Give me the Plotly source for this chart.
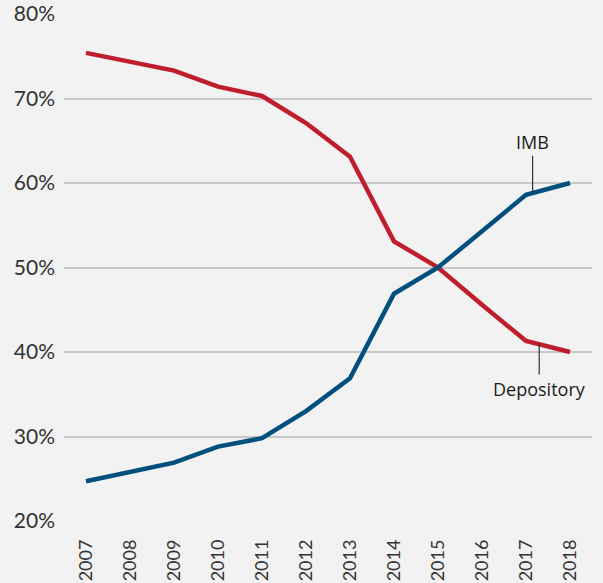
import plotly.graph_objects as go

years = list(range(2007, 2019))
depository = [75.4, 74.4, 73.3, 71.4, 70.3, 67.1, 63.1, 53.1, 50.0, 45.6, 41.3, 40.0]
imb = [24.7, 25.8, 26.9, 28.8, 29.8, 33.0, 36.9, 46.9, 50.0, 54.3, 58.6, 60.0]
y_ticks = [20, 30, 40, 50, 60, 70, 80]

RED = "#be1e2d"
BLUE = "#004f7c"
FONT = "Lato, Roboto, sans-serif"
LBL_FONT = "Open Sans, sans-serif"

fig = go.Figure()
fig.add_trace(go.Scatter(x=years, y=depository, mode="lines", name="Depository",
                         line=dict(color=RED, width=4.5)))
fig.add_trace(go.Scatter(x=years, y=imb, mode="lines", name="IMB",
                         line=dict(color=BLUE, width=4.5)))

# leader-line labels
fig.add_annotation(x=2017.15, y=58.85, text="IMB", showarrow=True, arrowhead=0,
                   arrowwidth=1.2, arrowcolor="#333", ax=0, ay=-37,
                   font=dict(family=LBL_FONT, size=18, color="#1a1a1a"), yanchor="bottom")
fig.add_annotation(x=2017.3, y=41.0, text="Depository", showarrow=True, arrowhead=0,
                   arrowwidth=1.2, arrowcolor="#333", ax=0, ay=31,
                   font=dict(family=LBL_FONT, size=18, color="#1a1a1a"), yanchor="top")

fig.update_layout(
    width=603, height=583,
    paper_bgcolor="#f2f2f2", plot_bgcolor="#f2f2f2",
    margin=dict(l=64, r=11, t=14, b=62, autoexpand=False),
    showlegend=False,
    xaxis=dict(range=[2006.5, 2018.5], tickvals=years, ticktext=[str(y) for y in years],
               tickangle=-90, showgrid=False, zeroline=False, showline=False,
               ticks="", ticklabelstandoff=14, automargin=False,
               tickfont=dict(family=FONT, size=18, color="#333")),
    yaxis=dict(range=[20, 80], tickvals=y_ticks, ticktext=[f"{v}%" for v in y_ticks],
               showgrid=True, gridcolor="#c8c8c8", gridwidth=2, zeroline=False,
               showline=False, ticks="", ticklabelstandoff=8, automargin=False,
               tickfont=dict(family=FONT, size=21, color="#333")),
)

fig.write_html("out.html", config={"displayModeBar": False},
               post_script="document.body.style.margin='0';")
